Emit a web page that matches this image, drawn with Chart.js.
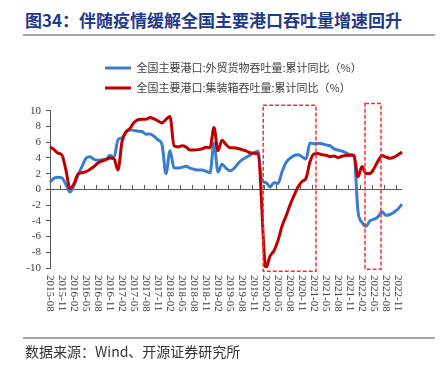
<!DOCTYPE html>
<html><head><meta charset="utf-8">
<script src="https://cdn.jsdelivr.net/npm/chart.js@4.4.1/dist/chart.umd.min.js"></script>
<style>
html,body{margin:0;padding:0;background:#fff;}
#wrap{position:relative;width:440px;height:371px;overflow:hidden;background:#fff;}
#c{position:absolute;left:0;top:0;}
#title{position:absolute;left:25px;top:8px;font-weight:bold;font-size:17px;font-family:"Noto Sans CJK SC";color:#1F3A8A;white-space:nowrap;line-height:24px;}
#tline{position:absolute;left:23px;top:34px;width:412px;height:2px;background:#A6A6A6;}
#fline{position:absolute;left:23px;top:337px;width:412px;height:2px;background:#A6A6A6;}
#foot{position:absolute;left:25px;top:342px;font-size:14px;font-family:"Noto Sans CJK SC";color:#333;white-space:nowrap;line-height:18px;}
</style></head>
<body><div id="wrap">
<div id="title">图34：伴随疫情缓解全国主要港口吞吐量增速回升</div>
<div id="tline"></div>
<canvas id="c" width="440" height="371"></canvas>
<div id="fline"></div>
<div id="foot">数据来源：Wind、开源证券研究所</div>
</div>
<script>
const categories = [
 '2015-08','2015-09','2015-10','2015-11','2015-12',
 '2016-01','2016-02','2016-03','2016-04','2016-05','2016-06','2016-07','2016-08','2016-09','2016-10','2016-11','2016-12',
 '2017-01','2017-02','2017-03','2017-04','2017-05','2017-06','2017-07','2017-08','2017-09','2017-10','2017-11','2017-12',
 '2018-01','2018-02','2018-03','2018-04','2018-05','2018-06','2018-07','2018-08','2018-09','2018-10','2018-11','2018-12',
 '2019-01','2019-02','2019-03','2019-04','2019-05','2019-06','2019-07','2019-08','2019-09','2019-10','2019-11','2019-12',
 '2020-01','2020-02','2020-03','2020-04','2020-05','2020-06','2020-07','2020-08','2020-09','2020-10','2020-11','2020-12',
 '2021-01','2021-02','2021-03','2021-04','2021-05','2021-06','2021-07','2021-08','2021-09','2021-10','2021-11','2021-12',
 '2022-01','2022-02','2022-03','2022-04','2022-05','2022-06','2022-07','2022-08','2022-09','2022-10','2022-11','2022-12'
];
const seriesNames = ['全国主要港口:外贸货物吞吐量:累计同比（%）','全国主要港口:集装箱吞吐量:累计同比（%）'];
const foreignTradeCargoYoY = [
 0.9,1.4,1.55,1.45,0.6,-0.35,0.5,1.8,2.9,3.95,
 4.15,3.8,3.7,3.75,3.8,4.35,4.05,6.3,6.55,7.3,
 7.55,7.5,7.4,7.35,7.0,7.05,6.75,6.3,5.7,2.0,
 4.9,2.75,2.7,2.8,2.95,2.7,2.55,2.45,2.45,2.3,
 2.1,5.85,2.2,3.2,2.7,2.35,2.65,3.3,3.75,4.05,
 4.35,4.65,4.85,1.1,0.85,0.3,0.85,0.75,2.2,3.4,
 3.95,4.3,4.4,4.15,3.85,5.9,5.8,5.85,5.8,5.65,
 5.55,5.15,5.0,4.85,4.65,4.4,4.3,-2.8,-4.2,-4.7,
 -4.0,-3.8,-3.5,-2.85,-3.3,-3.2,-2.9,-2.5,-1.9
];
const containerYoY = [
 5.4,5.05,4.6,4.35,2.4,0.1,0.7,1.95,2.1,2.25,
 2.55,2.9,3.35,3.6,3.8,4.0,3.9,2.45,6.05,7.3,
 7.75,8.5,8.85,8.9,8.9,9.15,8.95,8.7,8.45,8.9,
 9.25,5.55,5.4,5.55,5.4,5.0,5.0,5.05,5.15,5.35,
 5.3,7.85,4.9,6.25,5.7,5.3,5.3,5.2,5.05,4.9,
 4.65,4.6,4.5,null,-10.0,-8.5,-7.8,-6.5,-4.7,-3.4,
 -2.0,-0.8,0.3,1.0,1.4,3.5,4.5,4.55,4.4,4.35,
 4.15,4.25,4.05,4.2,4.3,4.35,4.3,1.6,2.9,2.0,
 2.0,2.65,3.6,4.3,4.1,3.95,4.1,4.4,4.75
];
const yTicks = [-10,-8,-6,-4,-2,0,2,4,6,8,10];
const xLabelEvery = 3;
// highlighted periods (category index range, value range)
const highlightPeriods = [
 {fromIdx: 53.3, toIdx: 66.5, top: 10.7, bottom: -10.4},
 {fromIdx: 78.75, toIdx: 82.75, top: 10.9, bottom: -10.15}
];

const axisColor = '#595959';
const textColor = '#404040';

const overlay = {
  id: 'overlay',
  afterLayout(chart) {
    const L = chart.legend;
    if (L) { const dx = 96 - L.left; L.left += dx; L.right += dx; }
  },
  beforeDatasetsDraw(chart) {
    const {ctx} = chart;
    const xs = chart.scales.x, ys = chart.scales.y;
    const y0 = Math.round(ys.getPixelForValue(0));
    ctx.save();
    ctx.strokeStyle = axisColor; ctx.lineWidth = 1;
    ctx.beginPath();
    for (let i = xLabelEvery - 1; i + 1 < categories.length; i += xLabelEvery) {
      const x = Math.round((xs.getPixelForValue(i) + xs.getPixelForValue(i + 1)) / 2) + 0.5;
      ctx.moveTo(x, y0 - 4); ctx.lineTo(x, y0);
    }
    ctx.stroke();
    ctx.restore();
  },
  afterDraw(chart) {
    const {ctx, chartArea} = chart;
    const xs = chart.scales.x, ys = chart.scales.y;
    ctx.save();
    ctx.font = '11px "Liberation Serif"';
    ctx.fillStyle = textColor;
    ctx.textAlign = 'left';
    ctx.textBaseline = 'middle';
    for (let i = 0; i < categories.length; i += xLabelEvery) {
      const x = xs.getPixelForValue(i);
      ctx.save();
      ctx.translate(x, chartArea.bottom + 7);
      ctx.rotate(Math.PI / 2);
      ctx.fillText(categories[i], 0, 0);
      ctx.restore();
    }
    ctx.strokeStyle = '#FF2B2B';
    ctx.lineWidth = 1.5;
    ctx.setLineDash([4, 2]);
    highlightPeriods.forEach(b => {
      const x1 = xs.getPixelForValue(b.fromIdx), x2 = xs.getPixelForValue(b.toIdx);
      const y1 = ys.getPixelForValue(b.top), y2 = ys.getPixelForValue(b.bottom);
      ctx.strokeRect(x1, y1, x2 - x1, y2 - y1);
    });
    ctx.restore();
  }
};

new Chart(document.getElementById('c'), {
  type: 'line',
  data: {
    labels: categories,
    datasets: [
      {label: seriesNames[1], data: containerYoY, borderColor: '#C00000', backgroundColor: '#C00000',
       borderWidth: 3, pointRadius: 0, cubicInterpolationMode: 'monotone', spanGaps: true},
      {label: seriesNames[0], data: foreignTradeCargoYoY, borderColor: '#3A7DD0', backgroundColor: '#3A7DD0',
       borderWidth: 3, pointRadius: 0, cubicInterpolationMode: 'monotone', spanGaps: true}
    ]
  },
  options: {
    responsive: false,
    animation: false,
    devicePixelRatio: 1,
    layout: {padding: {top: 53.5, left: 0, right: 38, bottom: 53}},
    plugins: {
      legend: {
        position: 'top', align: 'start', reverse: true,
        labels: {usePointStyle: true, pointStyle: 'line', pointStyleWidth: 26, padding: 9,
                 font: {size: 11, family: '"Noto Sans CJK SC"'}, color: textColor}
      },
      tooltip: {enabled: false},
      title: {display: false}
    },
    scales: {
      x: {
        type: 'category', position: 'bottom',
        grid: {display: false}, border: {display: false},
        ticks: {display: false},
        afterFit: s => { s.height = 50; }
      },
      xTop: {
        type: 'category', position: 'top', axis: 'x',
        grid: {display: false}, border: {display: false},
        ticks: {display: false},
        afterFit: s => { s.height = 7.2; }
      },
      y: {
        min: -10, max: 10,
        afterBuildTicks: s => { s.ticks = yTicks.map(v => ({value: v})); },
        ticks: {autoSkip: false, font: {size: 11, family: '"Liberation Serif"'}, color: textColor, padding: 5},
        grid: {drawOnChartArea: true, drawTicks: true, tickLength: 4,
               color: c => (c.tick && c.tick.value === 0) ? axisColor : 'rgba(0,0,0,0)',
               tickColor: axisColor, lineWidth: 1},
        border: {display: true, color: axisColor, width: 1},
        afterFit: s => { s.width = 50; }
      }
    }
  },
  plugins: [overlay]
});
</script>
</body></html>
